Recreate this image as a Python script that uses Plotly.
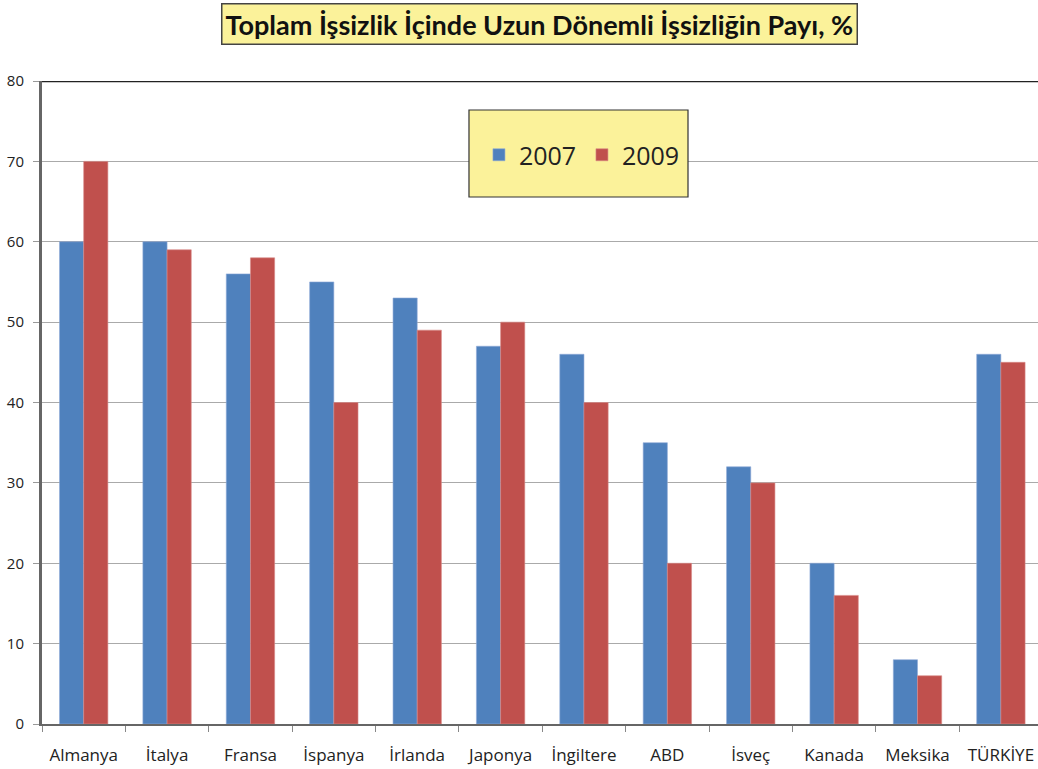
import plotly.graph_objects as go

categories = ["Almanya", "İtalya", "Fransa", "İspanya", "İrlanda", "Japonya",
              "İngiltere", "ABD", "İsveç", "Kanada", "Meksika", "TÜRKİYE"]
values_2007 = [60, 60, 56, 55, 53, 47, 46, 35, 32, 20, 8, 46]
values_2009 = [70, 59, 58, 40, 49, 50, 40, 20, 30, 16, 6, 45]
y_ticks = [0, 10, 20, 30, 40, 50, 60, 70, 80]

fig = go.Figure()
fig.add_trace(go.Bar(name="2007", x=categories, y=values_2007,
                     marker=dict(color="#4F81BD", line=dict(color="#8FAAD6", width=0.6))))
fig.add_trace(go.Bar(name="2009", x=categories, y=values_2009,
                     marker=dict(color="#C0504D", line=dict(color="#D98A88", width=0.6))))

fig.update_layout(
    width=1038, height=769,
    margin=dict(l=42, r=0, t=81, b=45, autoexpand=False),
    paper_bgcolor="white", plot_bgcolor="white",
    barmode="group", bargap=0.42, bargroupgap=0,
    font=dict(family="Open Sans", color="#222222"),
    showlegend=True,
    legend=dict(orientation="h", x=0.4387, y=0.8849, xanchor="left", yanchor="middle",
                bgcolor="rgba(0,0,0,0)", borderwidth=0,
                font=dict(size=25, family="Open Sans", color="#222222"),
                itemwidth=30, entrywidth=58),
    xaxis=dict(range=[-0.5, 11.445], showline=True, linecolor="#666666", linewidth=2,
               ticks="outside", tickson="boundaries", ticklen=6, tickcolor="#888888",
               tickfont=dict(size=17, family="Open Sans", color="#222222"),
               ticklabelstandoff=15, showgrid=False, automargin=False),
    yaxis=dict(range=[0, 80], tickvals=y_ticks, showline=True, linecolor="#666666", linewidth=3,
               ticks="outside", ticklen=6, tickcolor="#999999",
               tickfont=dict(size=15, family="Open Sans", color="#222222"),
               ticklabelstandoff=6,
               showgrid=True, gridcolor="#AAAAAA", gridwidth=1, zeroline=False,
               automargin=False),
    annotations=[dict(text="<b>Toplam İşsizlik İçinde Uzun Dönemli İşsizliğin Payı, %</b>",
                      xref="paper", yref="paper", x=0.499, y=1.0886, xanchor="center",
                      yanchor="middle", showarrow=False,
                      font=dict(size=27, family="Lato", color="#111111"),
                      bgcolor="#FBF29A", bordercolor="#444444", borderwidth=1.5, borderpad=3)],
    shapes=[dict(type="line", xref="paper", yref="y", x0=0, x1=1, y0=80, y1=80,
                 line=dict(color="#222222", width=2.5)),
            dict(type="rect", xref="paper", yref="paper", x0=0.4287, x1=0.6486,
                 y0=0.8196, y1=0.9549, fillcolor="#FBF29A",
                 line=dict(color="#333333", width=1.2), layer="above")],
)

fig.write_html("out.html", config={"displayModeBar": False},
               post_script="document.body.style.margin='0';")
